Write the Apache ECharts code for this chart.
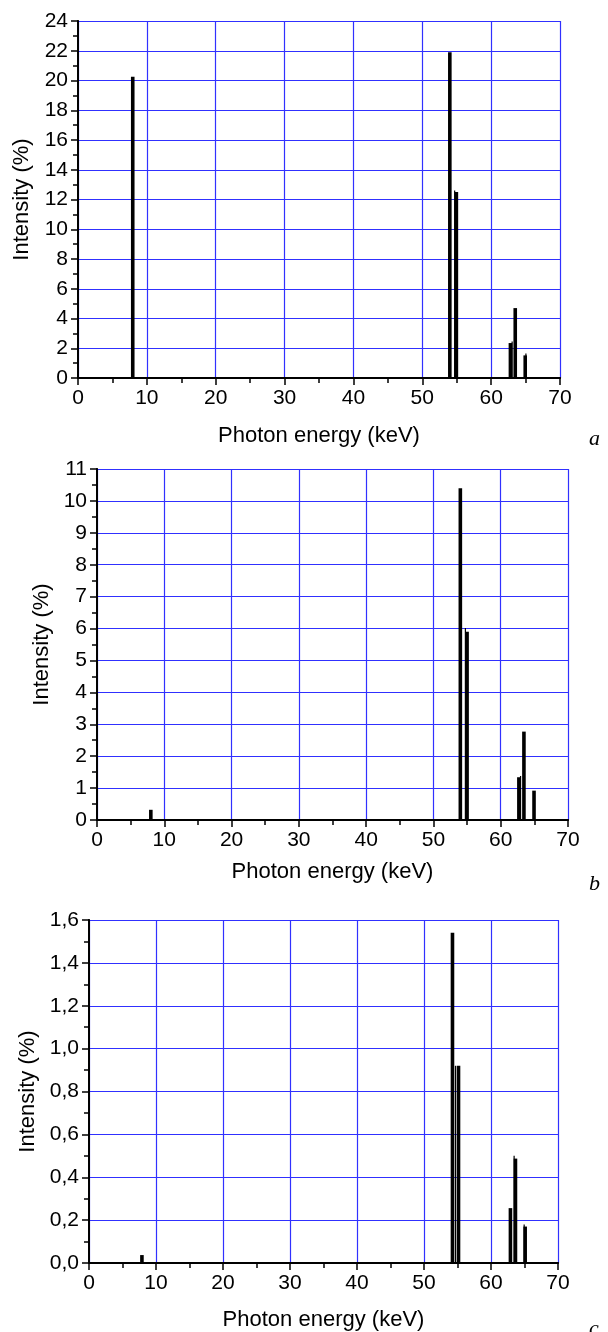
<!DOCTYPE html>
<html>
<head>
<meta charset="utf-8">
<script src="https://cdn.jsdelivr.net/npm/echarts@6/dist/echarts.min.js"></script>
<style>
html,body{margin:0;padding:0;background:#fff;}
#chart{width:608px;height:1332px;}
</style>
</head>
<body>
<div id="chart"></div>
<script>
// ---- data (energy keV, intensity %) ----
var xTicks = [0, 10, 20, 30, 40, 50, 60, 70];
var panelLetters = ['a', 'b', 'c'];

// panel a
var aThickE = [7.95, 54.0, 54.95, 62.8, 63.5, 64.95];
var aThickI = [20.25, 21.9, 12.5, 2.35, 4.7, 1.52];
var aThinE  = [54.7, 63.05, 65.05];
var aThinI  = [12.6, 2.46, 1.65];
var aYTicks = ['0','2','4','6','8','10','12','14','16','18','20','22','24'];

// panel b
var bThickE = [8.0, 54.0, 55.0, 62.7, 63.45, 64.95];
var bThickI = [0.32, 10.4, 5.9, 1.34, 2.77, 0.92];
var bThinE  = [54.75, 62.95];
var bThinI  = [6.02, 1.38];
var bYTicks = ['0','1','2','3','4','5','6','7','8','9','10','11'];

// panel c
var cThickE = [7.9, 54.25, 55.15, 62.9, 63.65, 65.1];
var cThickI = [0.037, 1.54, 0.92, 0.256, 0.487, 0.17];
var cThinE  = [54.7, 63.45, 64.95];
var cThinI  = [0.92, 0.50, 0.18];
var cYTicks = ['0,0','0,2','0,4','0,6','0,8','1,0','1,2','1,4','1,6'];

var xTitle = 'Photon energy (keV)';
var yTitle = 'Intensity (%)';

function pairs(e, v){ return e.map(function(x,i){ return [x, v[i]]; }); }

var FONT = '"Liberation Sans", Arial, sans-serif';
var GRIDC = '#3030ff';

var panels = [
  {grid:{left:78, top:21, width:482, height:357}, ymax:24, yint:2, yTicks:aYTicks, thick:pairs(aThickE,aThickI), thin:pairs(aThinE,aThinI), letterPos:[595,440], xGap:47, yGap:45},
  {grid:{left:97, top:469, width:471, height:351}, ymax:11, yint:1, yTicks:bYTicks, thick:pairs(bThickE,bThickI), thin:pairs(bThinE,bThinI), letterPos:[595,885], xGap:41, yGap:44},
  {grid:{left:89, top:920, width:469, height:347}, ymax:1.6, yint:0.2, yTicks:cYTicks, thick:pairs(cThickE,cThickI), thin:pairs(cThinE,cThinI), letterPos:[595,1330], xGap:46, yGap:48}
];

function rectRender(w){
  return function(params, api){
    var x = api.value(0), y = api.value(1);
    var top = api.coord([x, y]);
    var base = api.coord([x, 0]);
    return {type:'rect', shape:{x: top[0]-w/2, y: top[1], width: w, height: base[1]-top[1]}, style:{fill:'#000'}};
  };
}

var grids = [], xAxes = [], yAxes = [], series = [], graphics = [];
panels.forEach(function(p, i){
  grids.push(p.grid);
  var axLine = {show:true, lineStyle:{color:'#000', width:1.8}};
  var tickStyle = {color:'#000', width:1.5};
  // bottom x
  xAxes.push({
    type:'value', gridIndex:i, min:0, max:70, interval:10, position:'bottom',
    axisLine:axLine,
    axisTick:{show:true, inside:false, length:7, lineStyle:tickStyle},
    minorTick:{show:true, splitNumber:2, length:5, lineStyle:tickStyle},
    axisLabel:{show:true, color:'#000', fontFamily:FONT, fontSize:21, margin:10,
      formatter:function(v){ return String(xTicks[xTicks.indexOf(v)]); }},
    splitLine:{show:true, lineStyle:{color:GRIDC, width:1.2}},
    name:xTitle, nameLocation:'middle', nameGap:p.xGap,
    nameTextStyle:{color:'#000', fontFamily:FONT, fontSize:22}
  });
  // top x (mirror)
  xAxes.push({
    type:'value', gridIndex:i, min:0, max:70, interval:10, position:'top',
    axisLine:axLine,
    axisTick:{show:true, inside:true, length:7, lineStyle:tickStyle},
    minorTick:{show:true, splitNumber:2, length:5, lineStyle:tickStyle},
    axisLabel:{show:false}, splitLine:{show:false}
  });
  // left y
  yAxes.push({
    type:'value', gridIndex:i, min:0, max:p.ymax, interval:p.yint, position:'left',
    axisLine:axLine,
    axisTick:{show:true, inside:false, length:7, lineStyle:tickStyle},
    minorTick:{show:true, splitNumber:2, length:5, lineStyle:tickStyle},
    axisLabel:{show:true, color:'#000', fontFamily:FONT, fontSize:21, margin:10,
      formatter:(function(tk, step){ return function(v){ return tk[Math.round(v/step)]; }; })(p.yTicks, p.yint)},
    splitLine:{show:true, lineStyle:{color:GRIDC, width:1.2}},
    name:yTitle, nameLocation:'middle', nameGap:p.yGap,
    nameTextStyle:{color:'#000', fontFamily:FONT, fontSize:22}
  });
  // right y (mirror)
  yAxes.push({
    type:'value', gridIndex:i, min:0, max:p.ymax, interval:p.yint, position:'right',
    axisLine:axLine,
    axisTick:{show:true, inside:true, length:7, lineStyle:tickStyle},
    minorTick:{show:true, splitNumber:2, length:5, lineStyle:tickStyle},
    axisLabel:{show:false}, splitLine:{show:false}
  });
  series.push({type:'custom', xAxisIndex:2*i, yAxisIndex:2*i, renderItem:rectRender(3.6), data:p.thick, z:5});
  series.push({type:'custom', xAxisIndex:2*i, yAxisIndex:2*i, renderItem:rectRender(1.2), data:p.thin, z:5});
  graphics.push({type:'text', left:p.letterPos[0]-6, top:p.letterPos[1]-12,
    style:{text:panelLetters[i], font:'italic 22px "Liberation Serif", "Times New Roman", serif', fill:'#000'}});
});

var chart = echarts.init(document.getElementById('chart'), null, {renderer:'canvas'});
chart.setOption({
  animation:false,
  backgroundColor:'#fff',
  grid:grids, xAxis:xAxes, yAxis:yAxes, series:series, graphic:graphics
});
</script>
</body>
</html>
